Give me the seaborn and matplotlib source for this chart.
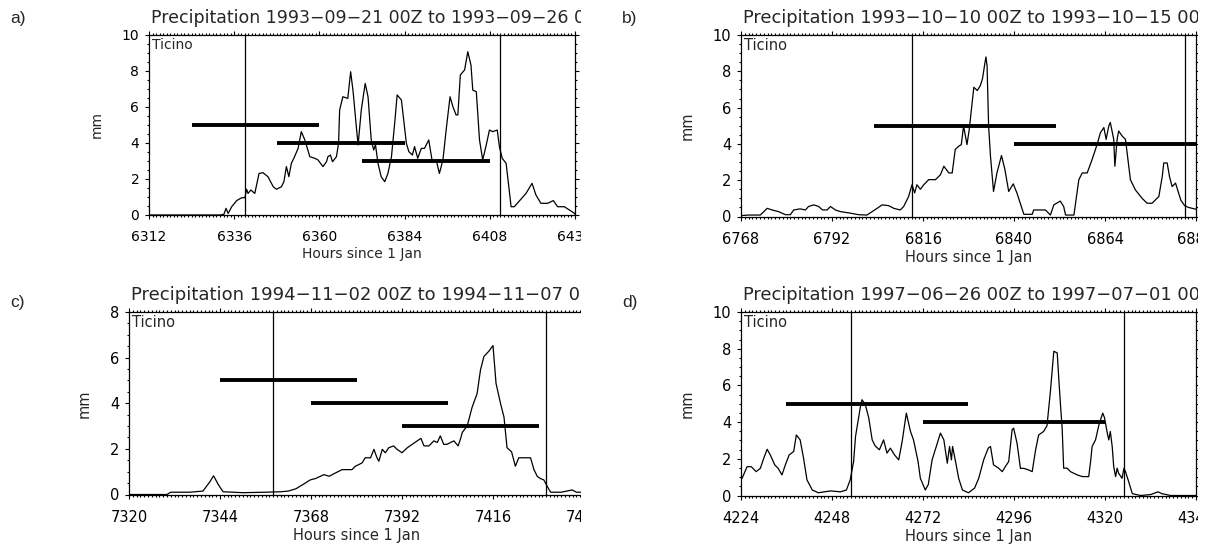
import numpy as np
import matplotlib
matplotlib.use("Agg")
import matplotlib.pyplot as plt
import seaborn as sns
from matplotlib.ticker import MultipleLocator
from matplotlib.patches import Rectangle
from matplotlib.transforms import Bbox, TransformedBbox

# ---------------- data ----------------
a_hours = [6312, 6332.0, 6333.1, 6333.7, 6334.3, 6335.3, 6336.7, 6338.1, 6339.0, 6339.5, 6339.9, 6340.7,
           6341.8, 6343.0, 6344.1, 6345.5, 6347.0, 6347.9, 6349.3, 6350.0, 6350.7, 6351.4, 6352.1, 6352.8,
           6354.0, 6354.9, 6355.9, 6357.3, 6358.7, 6359.6, 6361.0, 6362.0, 6362.4, 6363.1, 6363.7, 6364.8,
           6365.4, 6365.7, 6366.6, 6368.0, 6368.8, 6369.5, 6370.4, 6370.9, 6371.8, 6372.9, 6373.7, 6374.6,
           6375.3, 6375.8, 6376.5, 6377.4, 6378.4, 6379.3, 6380.3, 6381.2, 6381.9, 6383.1, 6384.5, 6385.2,
           6386.2, 6386.8, 6387.7, 6388.7, 6389.6, 6390.8, 6391.8, 6392.9, 6393.8, 6394.8, 6395.7, 6396.8,
           6397.6, 6398.5, 6399.0, 6399.7, 6400.9, 6401.8, 6402.7, 6403.2, 6404.2, 6405.1, 6406.0, 6407.0,
           6407.9, 6408.8, 6410.1, 6410.7, 6411.5, 6412.6, 6414.0, 6414.9, 6418.2, 6419.9, 6421.0, 6422.4,
           6424.3, 6425.9, 6427.1, 6429.0, 6431.8, 6432]
a_values = [0.0, 0.0, 0.04, 0.37, 0.09, 0.46, 0.8, 0.96, 0.96, 1.43, 1.2, 1.39,
            1.2, 2.31, 2.35, 2.13, 1.57, 1.43, 1.57, 1.85, 2.69, 2.13, 2.87, 3.15,
            3.7, 4.63, 4.17, 3.24, 3.15, 3.06, 2.69, 2.96, 3.24, 3.33, 2.96, 3.24,
            3.98, 5.83, 6.57, 6.48, 7.96, 6.85, 4.91, 3.89, 5.83, 7.31, 6.57, 4.17,
            3.61, 3.9, 2.87, 2.13, 1.85, 2.31, 3.24, 5.09, 6.67, 6.39, 3.98, 3.52,
            3.33, 3.8, 3.15, 3.7, 3.7, 4.17, 2.96, 3.06, 2.31, 3.06, 4.72, 6.57,
            6.02, 5.56, 5.56, 7.78, 8.06, 9.07, 8.33, 6.94, 6.85, 4.17, 3.06, 3.89,
            4.72, 4.63, 4.72, 3.8, 3.15, 2.87, 0.46, 0.46, 1.2, 1.76, 1.11, 0.65,
            0.65, 0.8, 0.46, 0.46, 0.1, 0.05]

b_hours = [6768, 6770.0, 6773.1, 6774.9, 6776.2, 6777.9, 6779.7, 6781.0, 6781.9, 6783.6, 6785.0, 6785.8,
           6787.2, 6788.5, 6789.5, 6790.7, 6791.6, 6792.9, 6794.2, 6796.4, 6799.0, 6801.2, 6802.6, 6803.9,
           6805.2, 6806.9, 6808.3, 6810.0, 6810.9, 6812.2, 6813.1, 6813.8, 6814.4, 6815.3, 6816.2, 6817.5,
           6819.3, 6820.6, 6821.5, 6822.8, 6823.7, 6824.5, 6825.4, 6826.1, 6826.7, 6827.6, 6828.2, 6829.4,
           6830.3, 6831.1, 6831.7, 6832.3, 6832.6, 6832.9, 6833.3, 6833.8, 6834.6, 6835.5, 6836.7, 6837.6,
           6838.6, 6839.8, 6840.8, 6842.6, 6844.8, 6845.2, 6848.3, 6849.6, 6850.5, 6852.2, 6853.1, 6853.6,
           6855.8, 6857.1, 6858.0, 6859.3, 6860.6, 6861.9, 6862.8, 6863.7, 6864.3, 6865.0, 6865.4, 6866.3,
           6866.6, 6867.2, 6867.6, 6868.5, 6869.4, 6870.7, 6872.0, 6873.8, 6875.1, 6876.4, 6878.2, 6879.1,
           6879.5, 6880.4, 6881.0, 6881.7, 6882.6, 6884.0, 6885.0, 6886.0, 6888]
b_values = [0.05, 0.08, 0.08, 0.45, 0.36, 0.27, 0.1, 0.1, 0.36, 0.42, 0.36, 0.55,
            0.64, 0.55, 0.36, 0.36, 0.55, 0.36, 0.27, 0.2, 0.1, 0.08, 0.27, 0.45,
            0.64, 0.6, 0.45, 0.36, 0.55, 1.1, 1.75, 1.3, 1.75, 1.5, 1.75, 2.03,
            2.03, 2.3, 2.77, 2.4, 2.4, 3.69, 3.87, 3.96, 4.99, 3.96, 4.8, 7.12,
            6.94, 7.2, 7.6, 8.42, 8.79, 8.3, 4.99, 3.32, 1.38, 2.4, 3.36, 2.59,
            1.38, 1.8, 1.28, 0.12, 0.12, 0.36, 0.36, 0.08, 0.64, 0.85, 0.55, 0.08,
            0.08, 2.03, 2.4, 2.4, 3.14, 3.96, 4.62, 4.9, 4.25, 4.99, 5.18, 4.25,
            2.77, 4.25, 4.71, 4.44, 4.25, 2.03, 1.47, 1.0, 0.73, 0.73, 1.1, 2.21,
            2.95, 2.95, 2.21, 1.65, 1.84, 0.9, 0.6, 0.5, 0.4]

c_hours = [7320, 7330.0, 7331.0, 7336.0, 7339.5, 7341.3, 7342.3, 7343.5, 7344.8, 7350.0, 7356.0, 7360.0,
           7362.0, 7364.0, 7366.0, 7367.8, 7369.2, 7371.4, 7372.8, 7374.4, 7376.2, 7378.0, 7378.8, 7379.7,
           7380.6, 7381.5, 7382.3, 7383.7, 7384.6, 7385.4, 7385.9, 7386.8, 7387.6, 7388.5, 7389.8, 7390.7,
           7392.0, 7393.4, 7394.7, 7396.0, 7397.0, 7397.8, 7399.1, 7400.4, 7401.3, 7402.1, 7403.0, 7403.9,
           7404.8, 7405.7, 7406.8, 7407.4, 7407.9, 7409.2, 7410.5, 7411.8, 7412.7, 7413.6, 7414.9, 7416.0,
           7416.8, 7418.0, 7418.9, 7419.7, 7420.9, 7421.9, 7422.8, 7424.6, 7425.9, 7426.8, 7427.7, 7428.5,
           7429.4, 7430.5, 7431.2, 7434.0, 7436.9, 7438.0, 7440]
c_values = [0.0, 0.0, 0.1, 0.1, 0.15, 0.55, 0.82, 0.45, 0.12, 0.08, 0.1, 0.12,
            0.15, 0.25, 0.45, 0.64, 0.7, 0.87, 0.8, 0.94, 1.09, 1.09, 1.09, 1.24,
            1.31, 1.39, 1.61, 1.61, 1.98, 1.61, 1.46, 1.98, 1.83, 2.05, 2.13, 1.98,
            1.83, 2.05, 2.2, 2.35, 2.46, 2.13, 2.13, 2.35, 2.28, 2.57, 2.2, 2.2,
            2.28, 2.35, 2.13, 2.42, 2.72, 3.01, 3.83, 4.42, 5.46, 6.05, 6.28, 6.53,
            4.87, 3.98, 3.39, 2.05, 1.87, 1.24, 1.61, 1.61, 1.61, 1.09, 0.79, 0.7,
            0.64, 0.3, 0.1, 0.1, 0.2, 0.1, 0.1]

d_hours = [4224, 4224.3, 4225.6, 4226.7, 4228.0, 4229.1, 4230.0, 4230.9, 4231.7, 4232.9, 4233.8, 4234.8,
           4235.7, 4236.7, 4237.9, 4238.6, 4239.6, 4240.5, 4241.4, 4242.8, 4244.4, 4247.6, 4250.2, 4251.8,
           4252.8, 4253.7, 4254.2, 4255.5, 4255.9, 4256.8, 4257.7, 4258.6, 4259.4, 4260.5, 4261.6, 4262.5,
           4263.4, 4264.5, 4265.6, 4266.5, 4267.6, 4268.7, 4269.5, 4270.7, 4271.3, 4272.6, 4273.4, 4274.4,
           4276.6, 4277.5, 4278.4, 4279.0, 4279.5, 4279.8, 4280.5, 4281.4, 4282.4, 4284.0, 4285.6, 4286.7,
           4288.0, 4289.2, 4289.8, 4290.6, 4292.0, 4292.9, 4293.7, 4294.6, 4295.5, 4295.9, 4296.8, 4297.7,
           4298.6, 4299.9, 4300.8, 4301.7, 4302.5, 4303.8, 4304.7, 4305.6, 4306.5, 4307.4, 4307.8, 4308.2,
           4308.7, 4309.1, 4310.0, 4310.9, 4312.7, 4314.0, 4315.7, 4316.2, 4316.6, 4317.5, 4318.4, 4319.4,
           4319.9, 4320.6, 4321.0, 4321.4, 4321.9, 4322.3, 4322.8, 4323.2, 4323.6, 4324.5, 4325.0, 4325.4,
           4326.1, 4327.2, 4329.4, 4332.0, 4334.0, 4335.0, 4337.3, 4344]
d_values = [0.9, 0.94, 1.57, 1.57, 1.3, 1.48, 2.03, 2.52, 2.22, 1.67, 1.48, 1.12,
            1.67, 2.21, 2.4, 3.3, 3.03, 2.03, 0.85, 0.3, 0.15, 0.25, 0.2, 0.3,
            0.85, 1.85, 3.21, 4.85, 5.22, 4.95, 4.22, 3.03, 2.7, 2.49, 3.03, 2.31,
            2.58, 2.21, 1.94, 2.94, 4.49, 3.49, 3.03, 1.85, 0.94, 0.3, 0.6, 1.94,
            3.4, 3.03, 1.76, 2.67, 1.94, 2.67, 1.94, 0.94, 0.3, 0.15, 0.4, 0.94,
            1.94, 2.58, 2.67, 1.67, 1.48, 1.3, 1.57, 1.85, 3.58, 3.67, 2.85, 1.48,
            1.48, 1.39, 1.3, 2.49, 3.3, 3.49, 3.8, 5.67, 7.86, 7.77, 6.4, 5.13,
            3.67, 1.49, 1.49, 1.3, 1.12, 1.03, 1.03, 1.85, 2.67, 3.03, 3.85, 4.49,
            4.22, 3.4, 3.03, 3.49, 2.67, 1.57, 1.03, 1.49, 1.21, 0.94, 1.49, 1.3,
            0.85, 0.1, 0.0, 0.05, 0.2, 0.1, 0.0, 0.0]

starts = [6312, 6768, 7320, 4224]
titles = ["Precipitation 1993\u221209\u221221 00Z to 1993\u221209\u221226 00Z",
          "Precipitation 1993\u221210\u221210 00Z to 1993\u221210\u221215 00Z",
          "Precipitation 1994\u221211\u221202 00Z to 1994\u221211\u221207 00Z",
          "Precipitation 1997\u221206\u221226 00Z to 1997\u221207\u221201 00Z"]
panel_letters = ["a)", "b)", "c)", "d)"]
ymax = [10, 10, 8, 10]
vline_hours = [[6339, 6411], [6813, 6885], [7358, 7430], [4253, 4325]]
bar_start = [[6324, 6348, 6372], [6803, 6840], [7344, 7368, 7392], [4236, 4272]]
bar_end = [[6360, 6384, 6408], [6851, 6888], [7380, 7404, 7428], [4284, 4320]]
bar_level = [[5, 4, 3], [5, 4], [5, 4, 3], [5, 4]]
region = "Ticino"
xlabel = "Hours since 1 Jan"
ylabel = "mm"

series_h = [a_hours, b_hours, c_hours, d_hours]
series_v = [a_values, b_values, c_values, d_values]

# ---------------- style ----------------
sns.set_theme(style="ticks")
plt.rcParams['font.family'] = ['DejaVu Sans']
plt.rcParams['axes.linewidth'] = 0.9

W, H = 1224, 554
fig = plt.figure(figsize=(W / 100, H / 100), dpi=100)
fig.patch.set_facecolor("white")

# axes boxes in pixels: left, top, width, height
boxes = [(149, 35, 426, 180), (741, 35, 455, 181.5), (129, 312, 455, 182.5), (741, 312, 455, 183.5)]
scales = [1.0, 1.05, 1.05, 1.05]
title_sizes = [12.5, 12.9, 13.0, 12.9]
clip_right = [581, 1198, 581, 1198]
letter_pos = [(10, 18), (622, 18), (10, 302), (622, 302)]

for i in range(4):
    l, t, w, h = boxes[i]
    s = scales[i]
    ax = fig.add_axes([l / W, 1 - (t + h) / H, w / W, h / H])
    ax.set_facecolor("white")
    sns.lineplot(x=series_h[i], y=series_v[i], ax=ax, color="black", linewidth=0.9,
                 estimator=None, sort=False, legend=False)
    for vh in vline_hours[i]:
        ax.axvline(vh, color="black", linewidth=0.9)
    ax.hlines(bar_level[i], bar_start[i], bar_end[i], color="black", linewidth=2.8)
    x0 = starts[i]
    ax.set_xlim(x0, x0 + 120)
    ax.set_ylim(0, ymax[i])
    ax.set_xticks(np.arange(x0, x0 + 121, 24))
    ax.xaxis.set_minor_locator(MultipleLocator(1))
    ax.yaxis.set_major_locator(MultipleLocator(2))
    ax.yaxis.set_minor_locator(MultipleLocator(0.5))
    ax.tick_params(which="both", direction="out", top=True, right=True,
                   labeltop=False, labelright=False, colors="black", width=0.8)
    ax.tick_params(which="major", length=3, labelsize=10 * s)
    ax.tick_params(which="minor", length=1.5)
    ax.tick_params(axis="x", which="major", pad=8)
    ax.tick_params(axis="y", which="major", pad=4)
    for sp in ax.spines.values():
        sp.set_visible(True)
        sp.set_color("black")
    ax.set_xlabel(xlabel, fontsize=10 * s, labelpad=2)
    ax.set_ylabel(ylabel, fontsize=10 * s, labelpad=13)
    ttl = ax.annotate(titles[i], xy=(0, 1), xycoords="axes fraction", xytext=(2, 8),
                      textcoords="offset pixels", ha="left", va="bottom", fontsize=title_sizes[i])
    # the source panel image is cut at its right edge: clip the title there
    ttl.set_clip_box(TransformedBbox(Bbox.from_extents(0, 0, clip_right[i] / W, 1), fig.transFigure))
    ttl.set_clip_on(True)
    ax.annotate(region, xy=(0, 1), xycoords="axes fraction", xytext=(3, -3),
                textcoords="offset pixels", ha="left", va="top", fontsize=10 * s)
    lx, ly = letter_pos[i]
    fig.text(lx / W, 1 - ly / H, panel_letters[i], ha="left", va="center", fontsize=12.5,
             family=["Liberation Sans", "DejaVu Sans"])

# panel image edges (the source panels are cut at their right side)
for (cx0, cx1) in [(581, 612), (1198, 1224)]:
    fig.add_artist(Rectangle((cx0 / W, 0), (cx1 - cx0) / W, 1, transform=fig.transFigure,
                             facecolor="white", edgecolor="none", zorder=20))

fig.savefig("out.png", dpi=100, facecolor="white")
